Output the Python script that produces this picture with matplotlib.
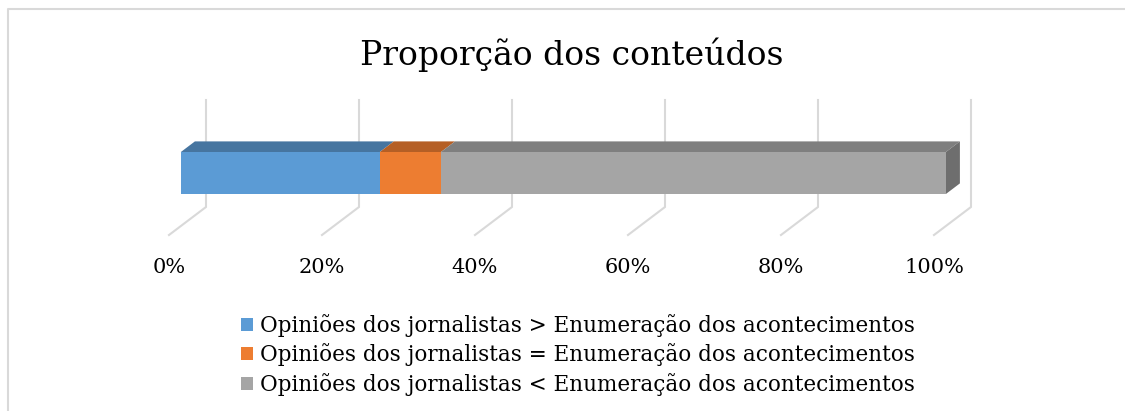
import matplotlib.pyplot as plt
from matplotlib.patches import Polygon, Patch
from matplotlib.lines import Line2D

# data (percent of contents)
series = [
    "Opiniões dos jornalistas > Enumeração dos acontecimentos",
    "Opiniões dos jornalistas = Enumeração dos acontecimentos",
    "Opiniões dos jornalistas < Enumeração dos acontecimentos",
]
values = [26, 8, 66]
ticks = [0, 20, 40, 60, 80, 100]
tick_labels = ["0%", "20%", "40%", "60%", "80%", "100%"]
title = "Proporção dos conteúdos"

front_colors = ["#5B9BD5", "#ED7D31", "#A5A5A5"]
top_colors = ["#4675A0", "#B55F25", "#7F7F7F"]
side_colors = ["#4675A0", "#B55F25", "#6E6E6E"]
grid_color = "#D9D9D9"

W, H, DPI = 1125, 411, 100
plt.rcParams["font.family"] = ["DejaVu Serif"]

fig = plt.figure(figsize=(W / DPI, H / DPI), dpi=DPI)
ax = fig.add_axes([0, 0, 1, 1])

# oblique projection: x in percent, h in px above floor, d = depth fraction
PX_PER_PCT = 7.65
X0 = 169
FLOOR_Y = 235
DEPTH_DX, DEPTH_DY = 37, 28
ax.set_xlim(-X0 / PX_PER_PCT, (W - X0) / PX_PER_PCT)
ax.set_ylim(H, 0)
ax.axis("off")


def proj(pct, h, d):
    return (pct + d * DEPTH_DX / PX_PER_PCT, FLOOR_Y - h - d * DEPTH_DY)


# back wall gridlines + floor lines
WALL_H = 107
for t in ticks:
    xs, ys = zip(proj(t, WALL_H, 1), proj(t, 0, 1), proj(t, 0, 0))
    ax.plot(xs, ys, color=grid_color, lw=1.5, solid_joinstyle="miter", zorder=1)

# 3D stacked bar
D0, D1 = 0.32, 0.70
H0, H1 = 32, 74
start = 0
for i, v in enumerate(values):
    end = start + v
    front = [proj(start, H0, D0), proj(end, H0, D0), proj(end, H1, D0), proj(start, H1, D0)]
    top = [proj(start, H1, D0), proj(end, H1, D0), proj(end, H1, D1), proj(start, H1, D1)]
    ax.add_patch(Polygon(top, closed=True, fc=top_colors[i], ec="none", zorder=3))
    ax.add_patch(Polygon(front, closed=True, fc=front_colors[i], ec="none", zorder=4))
    if i == len(values) - 1:
        side = [proj(end, H0, D0), proj(end, H0, D1), proj(end, H1, D1), proj(end, H1, D0)]
        ax.add_patch(Polygon(side, closed=True, fc=side_colors[i], ec="none", zorder=3))
    start = end

# category axis labels
for t, lab in zip(ticks, tick_labels):
    ax.text(t, 273, lab, ha="center", va="baseline", fontsize=15, color="#000000")

fig.text(572 / W, 1 - 65 / H, title, ha="center", va="baseline", fontsize=23.8)

handles = [Patch(fc=c, ec="none") for c in front_colors]
fig.legend(handles, series, loc="upper left", bbox_to_anchor=(241 / W, 1 - 314 / H),
           frameon=False, fontsize=15.5, handlelength=0.55, handleheight=0.55,
           handletextpad=0.35, labelspacing=0.3, borderpad=0, borderaxespad=0)

# chart border (top and left visible)
fig.add_artist(Line2D([7.5 / W, 7.5 / W, 1], [0, 1 - 9.5 / H, 1 - 9.5 / H],
                      transform=fig.transFigure, color=grid_color, lw=1.5))

fig.savefig("out.png", dpi=DPI)
